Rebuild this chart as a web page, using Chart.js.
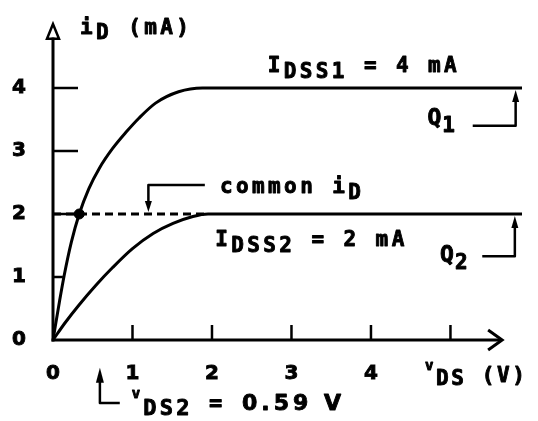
<!DOCTYPE html>
<html>
<head>
<meta charset="utf-8">
<script src="https://cdn.jsdelivr.net/npm/chart.js@4.4.0/dist/chart.umd.min.js"></script>
<style>
  html, body { margin: 0; padding: 0; background: #fff; }
  #wrap { width: 538px; height: 421px; position: relative; }
</style>
</head>
<body>
<div id="wrap"><canvas id="canva1"></canvas></div>
<script>
// drain curves of the two JFETs (vDS in V, iD in mA)
const vdsQ1 = [0, 0.08, 0.14, 0.23, 0.33, 0.45, 0.58, 0.75, 0.92, 1.08, 1.29, 1.58, 1.88, 5.9];
const idQ1 = [0, 0.6, 1.02, 1.55, 2.0, 2.4, 2.72, 3.04, 3.3, 3.52, 3.76, 3.94, 4.0, 4.0];
const vdsQ2 = [0, 0.15, 0.33, 0.54, 0.75, 1.0, 1.26, 1.51, 1.76, 1.95, 5.9];
const idQ2 = [0, 0.27, 0.56, 0.87, 1.15, 1.45, 1.69, 1.85, 1.96, 2.0, 2.0];
const xTickLabels = [0, 1, 2, 3, 4];
const yTickLabels = [0, 1, 2, 3, 4];
const xTickMarks = [1, 2, 3, 4, 5];
const yTickMarks = [1, 2, 3, 4];
const IDSS = [4, 2];
const commonId = 2;
const commonSpan = [0, 1.9];   // dashed line along the common current
const vdsQ1Point = 0.33;       // where Q1 meets the common current
const vds2 = 0.59;

const ink = '#000';
const monoFamily = '"DejaVu Sans Mono", "Liberation Mono", monospace';
const digitFamily = '"DejaVu Sans", "Liberation Sans", sans-serif';  // plain zero
const tickFont = { family: digitFamily, size: 20, weight: 'bold' };

const pts = (xs, ys) => xs.map((v, k) => ({ x: v, y: ys[k] }));

// vDS on Q1 for a given current (used to stop the y ticks at the curve)
const vdsOnQ1 = (i) => {
    for (let k = 1; k < idQ1.length; k++) {
        if (idQ1[k] >= i) {
            const t = (i - idQ1[k - 1]) / (idQ1[k] - idQ1[k - 1]);
            return vdsQ1[k - 1] + t * (vdsQ1[k] - vdsQ1[k - 1]);
        }
    }
    return vdsQ1[vdsQ1.length - 1];
}

const strokePath = (ctx, path, width) => {
    ctx.beginPath();
    path.forEach(([px, py], k) => k ? ctx.lineTo(px, py) : ctx.moveTo(px, py));
    ctx.lineWidth = width;
    ctx.stroke();
}
const arrowHead = (ctx, px, tipY, dir, w, h) => {
    ctx.beginPath();
    ctx.moveTo(px, tipY);
    ctx.lineTo(px - w / 2, tipY + dir * h);
    ctx.lineTo(px + w / 2, tipY + dir * h);
    ctx.closePath();
    ctx.fill();
}
// runs: [text, size, dy, family, spacing]; a thin stroke makes the type a little heavier
const richText = (ctx, px, py, runs, spacing = 3.4) => {
    ctx.textAlign = 'left';
    ctx.textBaseline = 'alphabetic';
    ctx.lineWidth = 0.9;
    ctx.lineJoin = 'round';
    runs.forEach(([t, size, dy, family, ls]) => {
        ctx.letterSpacing = (ls === undefined ? spacing : ls) + 'px';
        ctx.font = `bold ${size}px ${family || monoFamily}`;
        ctx.fillText(t, px, py + (dy || 0));
        ctx.strokeText(t, px, py + (dy || 0));
        px += ctx.measureText(t).width;
    });
    ctx.letterSpacing = '0px';
}

const sketch = {
    id: 'sketch',
    afterDatasetsDraw(chart) {
        const { ctx, scales: { x, y } } = chart;
        const X = v => x.getPixelForValue(v);
        const Y = i => y.getPixelForValue(i);
        const x0 = X(0), y0 = Y(0);
        ctx.save();
        ctx.strokeStyle = ink;
        ctx.fillStyle = ink;

        // axes
        strokePath(ctx, [[x0, y0 + 1.5], [x0, Y(4.8)]], 3);
        strokePath(ctx, [[x0 - 1.5, y0], [X(5.63), y0]], 3);
        // open head on the iD axis
        ctx.beginPath();
        ctx.moveTo(x0, Y(5) - 1);
        ctx.lineTo(x0 - 6, Y(4.78));
        ctx.lineTo(x0 + 6, Y(4.78));
        ctx.closePath();
        ctx.lineWidth = 2.5;
        ctx.stroke();
        // chevron on the vDS axis
        const tip = X(5.65);
        strokePath(ctx, [[tip - 14, y0 - 10], [tip, y0], [tip - 14, y0 + 10]], 3);

        // tick marks drawn inside the plot
        yTickMarks.forEach(i => {
            const end = Math.min(x0 + 25, X(vdsOnQ1(i)) - 1);
            strokePath(ctx, [[x0, Y(i)], [end, Y(i)]], 2.5);
        });
        xTickMarks.forEach(v => strokePath(ctx, [[X(v), y0], [X(v), y0 - 15]], 2.5));

        // axis titles
        richText(ctx, X(0.34), Y(4.86), [['i', 21], ['D', 21, 5], [' (mA)', 21]]);
        richText(ctx, X(4.68), Y(-0.67), [['v', 14, -12], ['DS', 21, 3], [' (V)', 21]], 2.6);

        // saturation currents
        richText(ctx, X(2.70), Y(4.25), [['I', 21], ['DSS1', 21, 6], [` = ${IDSS[0]} mA`, 21]]);
        richText(ctx, X(2.04), Y(1.49), [['I', 21], ['DSS2', 21, 6], [` = ${IDSS[1]} mA`, 21]]);

        // Q1 / Q2 pointers
        richText(ctx, X(4.71), Y(3.41), [['Q', 23], ['1', 21, 7]], 1);
        strokePath(ctx, [[X(5.28), Y(3.40)], [X(5.82), Y(3.40)], [X(5.82), Y(IDSS[0]) + 10]], 2.5);
        arrowHead(ctx, X(5.82), Y(IDSS[0]) + 2, 1, 7, 12);
        richText(ctx, X(4.87), Y(1.24), [['Q', 23], ['2', 21, 7]], 1);
        strokePath(ctx, [[X(5.40), Y(1.33)], [X(5.81), Y(1.33)], [X(5.81), Y(IDSS[1]) + 10]], 2.5);
        arrowHead(ctx, X(5.81), Y(IDSS[1]) + 2, 1, 7, 12);

        // common iD pointer
        richText(ctx, X(2.10), Y(2.33), [['common i', 21], ['D', 21, 6]]);
        strokePath(ctx, [[X(1.91), Y(2.46)], [X(1.2), Y(2.46)], [X(1.2), Y(commonId) - 10]], 2.5);
        arrowHead(ctx, X(1.2), Y(commonId) - 2, -1, 7, 11);

        // vDS2 pointer below the axis
        arrowHead(ctx, X(vds2), Y(-0.44), 1, 8, 15);
        strokePath(ctx, [[X(vds2), Y(-0.44) + 12], [X(vds2), Y(-1.0)], [X(0.84), Y(-1.0)]], 2.5);
        richText(ctx, X(0.99), Y(-1.11), [
            ['v', 14, -12], ['DS2', 22, 5], [' = ', 22],
            [`${vds2} V`, 22, 0, digitFamily, 4]
        ], 3.2);

        ctx.restore();
    }
};

const curve = (data) => ({
    data,
    showLine: true,
    borderColor: ink,
    borderWidth: 3,
    pointRadius: 0,
    cubicInterpolationMode: 'monotone',
    fill: false
});

const tickStyle = {
    color: ink,
    font: tickFont,
    textStrokeColor: ink,
    textStrokeWidth: 0.9
};

const config = {
    type: 'scatter',
    data: {
        datasets: [
            curve(pts(vdsQ1, idQ1)),
            curve(pts(vdsQ2, idQ2)),
            {
                data: pts(commonSpan, [commonId, commonId]),
                showLine: true,
                borderColor: ink,
                borderWidth: 3,
                borderDash: [8, 5],
                pointRadius: 0
            },
            {
                data: [{ x: vdsQ1Point, y: commonId }],
                pointRadius: 5,
                backgroundColor: ink,
                borderColor: ink
            }
        ]
    },
    options: {
        responsive: true,
        maintainAspectRatio: false,
        animation: false,
        layout: { padding: { top: 25, right: 16, left: 0, bottom: 0 } },
        plugins: { legend: { display: false }, tooltip: { enabled: false } },
        scales: {
            x: {
                type: 'linear',
                min: 0,
                max: 5.9,
                grid: { display: false, drawTicks: false },
                border: { display: false },
                ticks: { ...tickStyle, padding: 22 },
                afterBuildTicks: s => { s.ticks = xTickLabels.map(v => ({ value: v })); },
                afterFit: s => { s.height = 81; s.paddingLeft = 0; s.paddingRight = 0; }
            },
            y: {
                min: 0,
                max: 5,
                grid: { display: false, drawTicks: false },
                border: { display: false },
                ticks: { ...tickStyle, padding: 27 },
                afterBuildTicks: s => { s.ticks = yTickLabels.map(v => ({ value: v })); },
                afterFit: s => { s.width = 53; s.paddingTop = 0; s.paddingBottom = 0; }
            }
        }
    },
    plugins: [sketch]
};

window.onload = () => {
    new Chart(document.getElementById('canva1').getContext('2d'), config);
}
</script>
</body>
</html>
